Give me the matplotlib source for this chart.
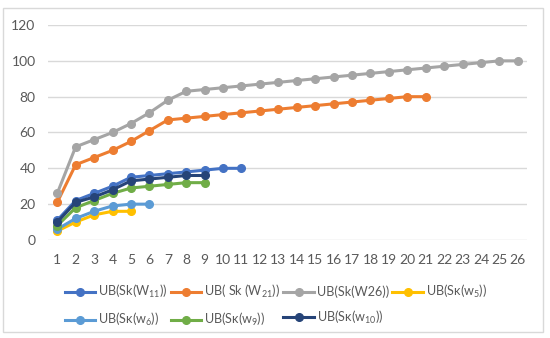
import matplotlib.pyplot as plt
from matplotlib.patches import Rectangle

plt.rcParams['font.family'] = ['Lato', 'DejaVu Sans']
plt.rcParams['mathtext.fontset'] = 'custom'
plt.rcParams['mathtext.rm'] = 'Lato'
plt.rcParams['mathtext.it'] = 'Lato'

# values
w11 = [11, 22, 26, 30, 35, 36, 37, 38, 39, 40, 40]
w21 = [21, 42, 46, 50, 55, 61, 67, 68, 69, 70, 71, 72, 73, 74, 75, 76, 77, 78, 79, 80, 80]
w26 = [26, 52, 56, 60, 65, 71, 78, 83, 84, 85, 86, 87, 88, 89, 90, 91, 92, 93, 94, 95,
       96, 97, 98, 99, 100, 100]
w5 = [5, 10, 14, 16, 16]
w6 = [6, 12, 16, 19, 20, 20]
w9 = [8, 18, 22, 26, 29, 30, 31, 32, 32]
w10 = [10, 21, 24, 28, 33, 34, 35, 36, 36]

series = [
    ("UB(Sk(W$_{11}$))", w11, "#4472C4"),
    ("UB( Sk (W$_{21}$))", w21, "#ED7D31"),
    ("UB(Sk(W26))", w26, "#A5A5A5"),
    ("UB(S\u03ba(w$_{5}$))", w5, "#FFC000"),
    ("UB(S\u03ba(w$_{6}$))", w6, "#5B9BD5"),
    ("UB(S\u03ba(w$_{9}$))", w9, "#70AD47"),
    ("UB(S\u03ba(w$_{10}$))", w10, "#264478"),
]

fig = plt.figure(figsize=(5.5, 3.38), dpi=100)
ax = fig.add_axes([0.0873, 0.29, 0.871, 0.636])

lines = []
for label, vals, color in series:
    x = list(range(1, len(vals) + 1))
    ln, = ax.plot(x, vals, color=color, lw=2.2, marker="o", ms=5.5, label=label)
    lines.append(ln)

ax.set_xlim(0.5, 26.5)
ax.set_ylim(0, 120)
ax.set_xticks(range(1, 27))
ax.set_yticks(range(0, 121, 20))
ax.grid(axis="y", color="#D9D9D9", lw=1)
ax.set_axisbelow(True)
for s in ax.spines.values():
    s.set_visible(False)
ax.tick_params(length=0, labelsize=10, colors="#595959")
ax.tick_params(axis="x", pad=10)
ax.tick_params(axis="y", pad=9)

# reorder so the legend fills rows like Excel
order = [0, 4, 1, 5, 2, 6, 3]
leg = fig.legend([lines[i] for i in order], [series[i][0] for i in order],
                 loc="upper left", bbox_to_anchor=(0.097, 0.196), ncol=4,
                 frameon=False, fontsize=9.1, handlelength=2.4, handletextpad=0.25,
                 columnspacing=0.25, labelspacing=0.85)
for t in leg.get_texts():
    t.set_color("#595959")

fig.patches.append(Rectangle((0.006, 0.018), 0.982, 0.958, transform=fig.transFigure,
                             fill=False, edgecolor="#D9D9D9", lw=1))

fig.savefig("out.png", dpi=100)
